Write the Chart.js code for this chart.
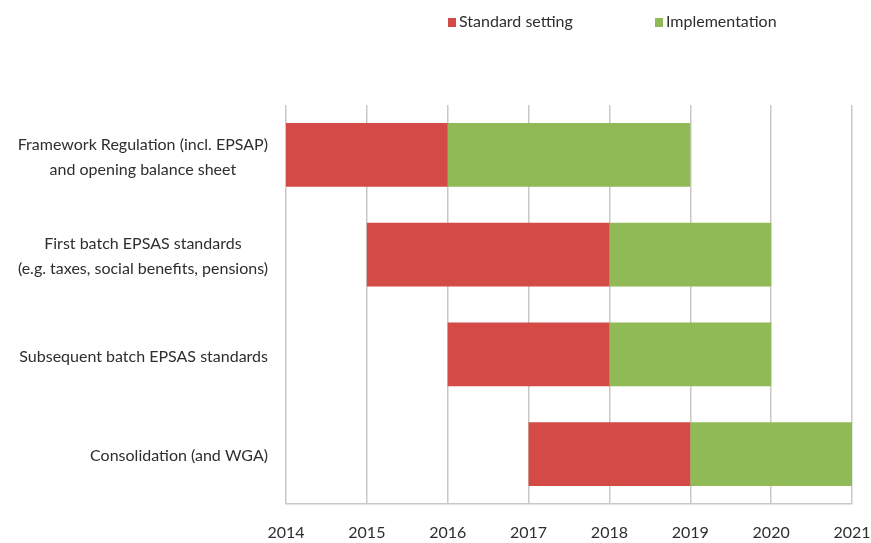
<!DOCTYPE html>
<html>
<head>
<meta charset="utf-8">
<script src="https://cdn.jsdelivr.net/npm/chart.js@4"></script>
<style>
  html, body { margin: 0; padding: 0; background: #fff; }
  #wrap { width: 871px; height: 543px; position: relative; }
</style>
</head>
<body>
<div id="wrap"><canvas id="c" width="871" height="543"></canvas></div>
<script>
// ---- data ----
const categories = [
  ["Framework Regulation (incl. EPSAP)", "and opening balance sheet"],
  ["First batch EPSAS standards", "(e.g. taxes, social benefits, pensions)"],
  ["Subsequent batch EPSAS standards"],
  ["Consolidation (and WGA)"]
];
const standardStart = [2014, 2015, 2016, 2017];
const standardEnd   = [2016, 2018, 2018, 2019];
const implStart     = [2016, 2018, 2018, 2019];
const implEnd       = [2019, 2020, 2020, 2021];
const seriesNames   = ["Standard setting", "Implementation"];
const yearTicks     = [2014, 2015, 2016, 2017, 2018, 2019, 2020, 2021];

const RED = '#d44a47';
const GREEN = '#8fba55';
const FONT = 'Lato, "Open Sans", sans-serif';
const TEXT = '#2e2e2e';

const pairs = (a, b) => a.map((v, i) => [v, b[i]]);

// custom y labels: block right-aligned, lines centered within block
const yLabelPlugin = {
  id: 'yLabels',
  afterDraw(chart) {
    const ctx = chart.ctx;
    const y = chart.scales.y;
    const right = chart.chartArea.left - 18;
    const lh = 25;
    ctx.save();
    ctx.font = '16px ' + FONT;
    ctx.fillStyle = TEXT;
    ctx.textBaseline = 'middle';
    ctx.textAlign = 'center';
    categories.forEach((lines, i) => {
      const cy = y.getPixelForValue(i) + 2;
      const w = Math.max(...lines.map(l => ctx.measureText(l).width));
      const cx = right - w / 2;
      const y0 = cy - (lines.length - 1) * lh / 2;
      lines.forEach((l, k) => ctx.fillText(l, cx, y0 + k * lh));
    });
    ctx.restore();
  }
};

// custom legend at top
const legendPlugin = {
  id: 'topLegend',
  afterDraw(chart) {
    const ctx = chart.ctx;
    const items = [
      { x: chart.chartArea.left + 162, color: RED, text: seriesNames[0] },
      { x: chart.chartArea.left + 369, color: GREEN, text: seriesNames[1] }
    ];
    const cy = 22;
    ctx.save();
    ctx.font = '16px ' + FONT;
    ctx.textBaseline = 'middle';
    ctx.textAlign = 'left';
    items.forEach(it => {
      ctx.fillStyle = it.color;
      ctx.fillRect(it.x, cy - 4, 8, 9);
      ctx.fillStyle = TEXT;
      ctx.fillText(it.text, it.x + 11, cy);
    });
    ctx.restore();
  }
};

new Chart(document.getElementById('c'), {
  type: 'bar',
  data: {
    labels: categories,
    datasets: [
      { label: seriesNames[0], data: pairs(standardStart, standardEnd), backgroundColor: RED, grouped: false,
        categoryPercentage: 1, barPercentage: 0.64, borderSkipped: false, borderWidth: 0 },
      { label: seriesNames[1], data: pairs(implStart, implEnd), backgroundColor: GREEN, grouped: false,
        categoryPercentage: 1, barPercentage: 0.64, borderSkipped: false, borderWidth: 0 }
    ]
  },
  plugins: [yLabelPlugin, legendPlugin],
  options: {
    indexAxis: 'y',
    responsive: false,
    animation: false,
    layout: { padding: { left: 286, right: 19, top: 105, bottom: 0 } },
    plugins: { legend: { display: false }, tooltip: { enabled: false } },
    scales: {
      x: {
        type: 'linear',
        min: yearTicks[0],
        max: yearTicks[yearTicks.length - 1],
        afterBuildTicks(scale) { scale.ticks = yearTicks.map(v => ({ value: v })); },
        afterFit(scale) { scale.height = 39; scale.paddingLeft = 0; scale.paddingRight = 0; },
        grid: { color: '#cbc7c3', lineWidth: 1.5, drawTicks: false },
        border: { display: true, color: '#cbc7c3', width: 1.5 },
        ticks: { padding: 19, color: TEXT, font: { family: FONT, size: 16 }, callback: v => String(v), maxRotation: 0 }
      },
      y: {
        type: 'category',
        offset: true,
        afterFit(scale) { scale.width = 0; },
        ticks: { display: false },
        grid: { display: false, drawTicks: false },
        border: { display: false }
      }
    }
  }
});
</script>
</body>
</html>
